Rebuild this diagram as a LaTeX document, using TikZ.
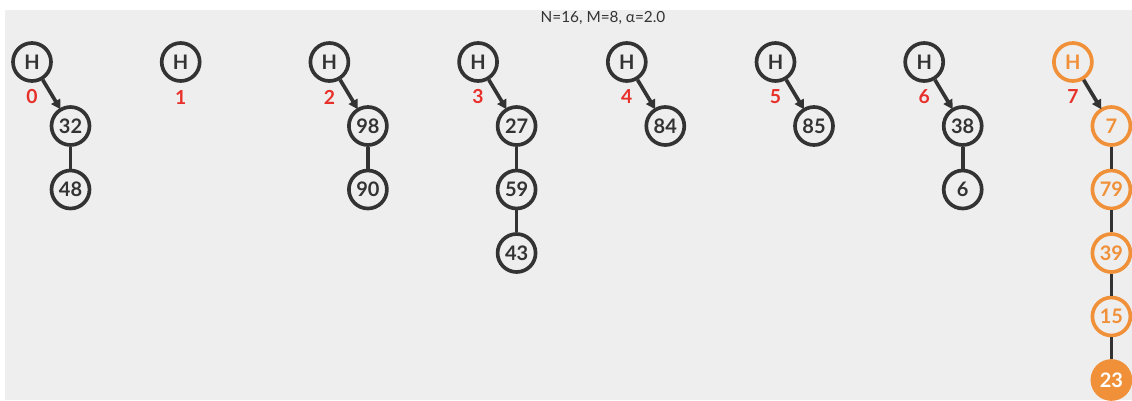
\documentclass[tikz,border=0pt]{standalone}
\usepackage{fontspec}
\setmainfont{Lato}
\usetikzlibrary{arrows.meta}
\definecolor{ink}{HTML}{333333}
\definecolor{panel}{HTML}{EEEEEE}
\definecolor{slotred}{HTML}{E8302A}
\definecolor{hot}{HTML}{F0913A}
\tikzset{
  ring/.style={circle, draw=ink, line width=2.75pt, minimum size=28.5pt, inner sep=0pt,
    text=ink, font=\fontsize{15}{17}\selectfont\bfseries},
  hotring/.style={ring, draw=hot, text=hot},
  hotfill/.style={ring, draw=hot, fill=hot, text=white},
  slotlabel/.style={text=slotred, font=\fontsize{14.5}{16}\selectfont\bfseries, inner sep=0pt},
  link/.style={draw=ink, line width=2.75pt},
  headlink/.style={link, -{Triangle[length=7pt,width=7.5pt]}, shorten >=-1pt}
}
\begin{document}
\begin{tikzpicture}[x=0.75pt,y=-0.75pt]
\useasboundingbox (0,0) rectangle (1132,400);
\fill[panel] (5,10) rectangle (1132,400);
\node[text=ink, font=\fontsize{11.5}{13}\selectfont, inner sep=0pt] (title) at (603,18) {N=16, M=8, α=2.0};

% bucket heads and their indices
\foreach \i in {0,...,6} {
  \node[ring] (h\i) at ({32+148.7*\i},62) {H};
  \node[slotlabel] (l\i) at ({32+148.7*\i},97) {\i};
}
\node[hotring] (h7) at ({32+148.7*7},62) {H};
\node[slotlabel] (l7) at ({32+148.7*7},97) {7};

% chains of each bucket
\foreach \b/\keys in {0/{32,48}, 2/{98,90}, 3/{27,59,43}, 4/{84}, 5/{85}, 6/{38,6}} {
  \foreach \k [count=\n] in \keys {
    \node[ring] (c\b-\n) at ({32+148.7*\b+38.5},{126+63.5*(\n-1)}) {\k};
  }
}
\foreach \k [count=\n] in {7,79,39,15} {
  \node[hotring] (c7-\n) at ({32+148.7*7+38.5},{126+63.5*(\n-1)}) {\k};
}
\node[hotfill] (c7-5) at ({32+148.7*7+38.5},{126+63.5*4}) {23};

% head pointers
\foreach \b in {0,2,3,4,5,6,7} {
  \draw[headlink] (h\b) -- (c\b-1);
}
% links inside chains
\draw[link] (c0-1) -- (c0-2);
\draw[link] (c2-1) -- (c2-2);
\draw[link] (c3-1) -- (c3-2);
\draw[link] (c3-2) -- (c3-3);
\draw[link] (c6-1) -- (c6-2);
\draw[link] (c7-1) -- (c7-2);
\draw[link] (c7-2) -- (c7-3);
\draw[link] (c7-3) -- (c7-4);
\draw[link] (c7-4) -- (c7-5);
\end{tikzpicture}
\end{document}
